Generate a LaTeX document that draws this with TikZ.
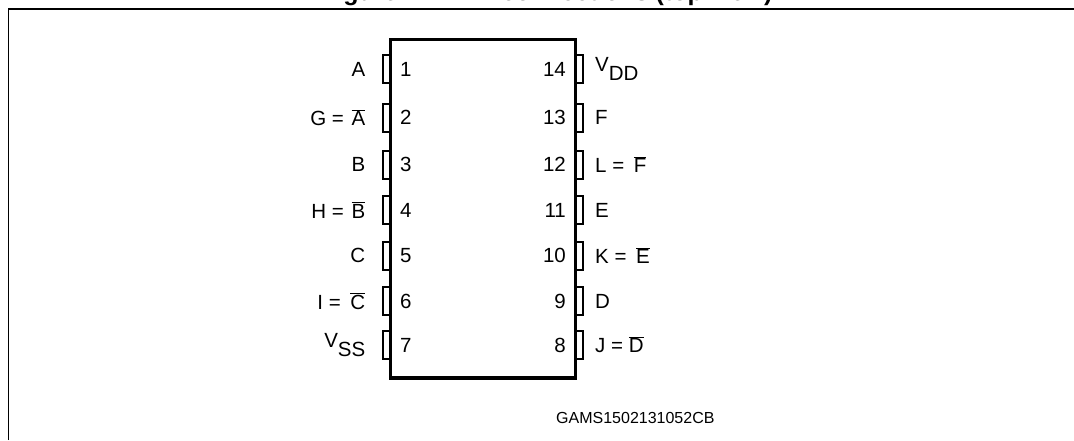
\documentclass[tikz,border=0pt]{standalone}
\usepackage{fontspec}
\setmainfont{Liberation Sans}
\tikzset{
	pinbox/.style={draw, line width=2pt, minimum width=7.5pt, minimum height=28pt, inner sep=0pt},
	pinnum/.style={inner sep=0pt, font=\fontsize{20.5}{24}\selectfont},
}
\newcommand{\bartxt}[1]{$\overline{\mbox{#1}}$}
\begin{document}
\begin{tikzpicture}[x=1pt,y=-1pt]
	\useasboundingbox (0,0) rectangle (1074,440);
	% frame and package
	\draw[line width=1.5pt] (8.5,440) -- (8.5,9) -- (1074,9);
	\node[inner sep=0pt, anchor=base west, font=\bfseries\fontsize{25}{29}\selectfont] (title) at (321,0.5) {Figure 1.\hspace{21pt} Pin connections (top view)};
	\draw[line width=3.6pt] (390.5,39.5) rectangle (575.5,378);
	% left pins
	\foreach \n/\y/\txt in {1/69/A, 2/117.5/G =\hspace{2pt} \bartxt{A}, 3/164.5/B, 4/210/H =\hspace{2pt} \bartxt{B}, 5/255.5/C, 6/301/I =\hspace{4pt} \bartxt{C}, 7/345/{V\raisebox{-.8ex}{SS}}}{
		\node[pinbox] (pl\n) at (386.7,\y) {};
		\node[pinnum, anchor=west] (nl\n) at (400,\y) {\n};
		\node[pinnum, anchor=east] (tl\n) at (365.5,\y) {\txt};
	}
	% right pins
	\foreach \n/\y/\txt in {14/69/{V\raisebox{-.8ex}{DD}}, 13/117.5/F, 12/164.5/L =\hspace{4pt} \bartxt{F}, 11/210/E, 10/255.5/K =\hspace{4pt} \bartxt{E}, 9/301/D, 8/345/J = \bartxt{D}}{
		\node[pinbox] (pr\n) at (579.3,\y) {};
		\node[pinnum, anchor=east] (nr\n) at (566,\y) {\n};
		\node[pinnum, anchor=west] (tr\n) at (595,\y) {\txt};
	}
	\node[inner sep=0pt, anchor=west, font=\fontsize{16}{19}\selectfont] (code) at (556,418) {GAMS1502131052CB};
\end{tikzpicture}
\end{document}
